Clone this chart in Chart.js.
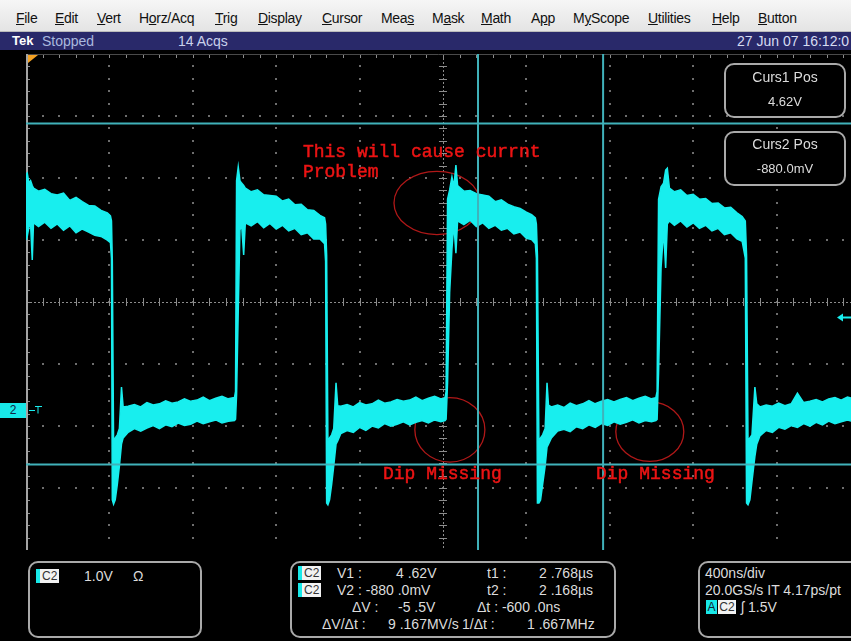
<!DOCTYPE html>
<html>
<head>
<meta charset="utf-8">
<script src="https://cdn.jsdelivr.net/npm/chart.js@4.4.1/dist/chart.umd.min.js"></script>
<style>
  body { margin: 0; background: #000; width: 851px; height: 641px; overflow: hidden; position: relative;
         font-family: "Liberation Sans", Arial, sans-serif; }
  .abs { position: absolute; white-space: nowrap; }
  #menu { position: absolute; left: 0; top: 0; width: 851px; height: 31px;
          background: linear-gradient(#f6f6f6, #e4e4e4); border-bottom: 1px solid #bbb; }
  #menu span { position: absolute; top: 10px; font-size: 14px; color: #111; letter-spacing: -0.3px; }
  #status { position: absolute; left: 0; top: 32px; width: 851px; height: 18px; background: #29296a; }
  #status span { position: absolute; top: 1px; font-size: 14px; line-height: 16px; }
  #wrap { position: absolute; left: 0; top: 50px; width: 851px; height: 505px; }
  .box { position: absolute; border: 2px solid #a9a9a9; border-radius: 10px; background: #000; }
  .txt { position: absolute; font-size: 14px; line-height: 16px; color: #dcdcdc; white-space: nowrap; }
  .badge { position: absolute; height: 14px; font-size: 12px; line-height: 14px; background: #f2f2f2; color: #333;
           border-left: 4px solid #18e8e8; padding: 0 2px; }
</style>
</head>
<body>
<div id="menu">
  <span style="left:16px"><u>F</u>ile</span>
  <span style="left:55px"><u>E</u>dit</span>
  <span style="left:97px"><u>V</u>ert</span>
  <span style="left:139px">H<u>o</u>rz/Acq</span>
  <span style="left:215px"><u>T</u>rig</span>
  <span style="left:258px"><u>D</u>isplay</span>
  <span style="left:322px"><u>C</u>ursor</span>
  <span style="left:381px">Mea<u>s</u></span>
  <span style="left:432px">M<u>a</u>sk</span>
  <span style="left:481px"><u>M</u>ath</span>
  <span style="left:531px">A<u>p</u>p</span>
  <span style="left:573px">M<u>y</u>Scope</span>
  <span style="left:648px"><u>U</u>tilities</span>
  <span style="left:712px"><u>H</u>elp</span>
  <span style="left:758px"><u>B</u>utton</span>
</div>
<div id="status">
  <span style="left:12px;color:#fff;font-weight:bold;font-size:13px">Tek</span>
  <span style="left:42px;color:#a9b8de">Stopped</span>
  <span style="left:178px;color:#c9d1ec">14 Acqs</span>
  <span style="left:737px;color:#d6dcf2">27 Jun 07 16:12:0</span>
</div>

<div id="wrap"><canvas id="scope" width="851" height="505"></canvas></div>

<!-- channel 2 ground marker -->
<div class="abs" style="left:0;top:403px;width:26px;height:15px;background:#18e8e8;color:#124;font-size:12px;line-height:15px;text-align:center">2</div>

<!-- cursor readouts -->
<div class="box" style="left:724px;top:63px;width:118px;height:51px"></div>
<div class="txt" style="left:724px;top:69px;width:122px;text-align:center">Curs1 Pos</div>
<div class="txt" style="left:724px;top:94px;width:122px;text-align:center;font-size:13px">4.62V</div>
<div class="box" style="left:724px;top:131px;width:118px;height:51px"></div>
<div class="txt" style="left:724px;top:136px;width:122px;text-align:center">Curs2 Pos</div>
<div class="txt" style="left:724px;top:161px;width:122px;text-align:center;font-size:13px">-880.0mV</div>

<!-- bottom readouts -->
<div class="box" style="left:28px;top:561px;width:170px;height:73px"></div>
<div class="badge" style="left:36px;top:569px">C2</div>
<div class="txt" style="left:84px;top:568px">1.0V</div>
<div class="txt" style="left:133px;top:568px">Ω</div>

<div class="box" style="left:290px;top:561px;width:322px;height:73px"></div>
<div class="badge" style="left:298px;top:566px">C2</div>
<div class="txt" style="left:337px;top:565px">V1 :</div>
<div class="txt" style="left:396px;top:565px">4 .62V</div>
<div class="txt" style="left:487px;top:565px">t1 :</div>
<div class="txt" style="left:539px;top:565px">2 .768µs</div>
<div class="badge" style="left:298px;top:583px">C2</div>
<div class="txt" style="left:337px;top:582px">V2 : -880 .0mV</div>
<div class="txt" style="left:487px;top:582px">t2 :</div>
<div class="txt" style="left:539px;top:582px">2 .168µs</div>
<div class="txt" style="left:352px;top:599px">ΔV :</div>
<div class="txt" style="left:398px;top:599px">-5 .5V</div>
<div class="txt" style="left:477px;top:599px">Δt : -600 .0ns</div>
<div class="txt" style="left:322px;top:616px">ΔV/Δt :</div>
<div class="txt" style="left:388px;top:616px">9 .167MV/s</div>
<div class="txt" style="left:462px;top:616px">1/Δt :</div>
<div class="txt" style="left:527px;top:616px">1 .667MHz</div>

<div class="box" style="left:698px;top:561px;width:170px;height:73px"></div>
<div class="txt" style="left:705px;top:565px">400ns/div</div>
<div class="txt" style="left:705px;top:582px">20.0GS/s IT 4.17ps/pt</div>
<div class="abs" style="left:706px;top:600px;height:14px;width:11px;background:#18e8e8;color:#123;font-size:12px;line-height:14px;text-align:center">A</div>
<div class="abs" style="left:718px;top:600px;height:14px;width:18px;background:#f2f2f2;color:#333;font-size:12px;line-height:14px;text-align:center">C2</div>
<div class="txt" style="left:741px;top:599px">ʃ 1.5V</div>

<script>
// C2 acquisition: time in µs, min/max envelope in volts
const TIME_US = [
  0.000, 0.006, 0.014, 0.022, 0.030, 0.036, 0.060, 0.090, 0.120, 0.150, 0.180, 0.210, 0.240, 0.270, 0.300, 0.330, 0.360, 0.390, 0.405, 0.410,
  0.414, 0.420, 0.428, 0.438, 0.448, 0.458, 0.466, 0.49, 0.52, 0.55, 0.58, 0.61, 0.64, 0.67, 0.70, 0.73, 0.76, 0.79, 0.82, 0.85, 0.88, 0.91, 0.94, 0.97, 1.000,
  1.005, 1.010, 1.018, 1.026, 1.034, 1.044, 1.052, 1.08, 1.11, 1.14, 1.17, 1.20, 1.23, 1.26, 1.29, 1.32, 1.35, 1.38, 1.41, 1.432, 1.437,
  1.442, 1.448, 1.456, 1.466, 1.476, 1.487, 1.495, 1.51, 1.54, 1.57, 1.60, 1.63, 1.66, 1.69, 1.72, 1.75, 1.78, 1.81, 1.84, 1.87, 1.90, 1.93, 1.96, 1.99, 2.010,
  2.015, 2.022, 2.032, 2.043, 2.052, 2.062, 2.070, 2.10, 2.13, 2.16, 2.19, 2.22, 2.25, 2.28, 2.31, 2.34, 2.37, 2.40, 2.425, 2.443, 2.448,
  2.453, 2.460, 2.468, 2.478, 2.490, 2.499, 2.506, 2.52, 2.55, 2.58, 2.61, 2.64, 2.67, 2.70, 2.73, 2.76, 2.79, 2.82, 2.85, 2.88, 2.91, 2.94, 2.97, 3.000, 3.021,
  3.027, 3.034, 3.046, 3.058, 3.068, 3.076, 3.086, 3.11, 3.14, 3.17, 3.20, 3.23, 3.26, 3.29, 3.32, 3.35, 3.38, 3.41, 3.435, 3.450,
  3.456, 3.463, 3.472, 3.482, 3.496, 3.505, 3.52, 3.55, 3.58, 3.61, 3.64, 3.67, 3.70, 3.73, 3.76, 3.79, 3.82, 3.85, 3.88, 3.91, 3.94, 3.96
];
const TRACE_MAX_V = [
  3.80, 3.82, 3.66, 3.70, 3.62, 3.58, 3.53, 3.56, 3.49, 3.47, 3.50, 3.38, 3.43, 3.36, 3.30, 3.29, 3.22, 3.18, 3.13, 3.05,
  2.40, -0.50, -0.45, -0.40, -0.30, 0.37, 0.05, 0.06, 0.09, 0.05, 0.12, 0.08, 0.10, 0.15, 0.11, 0.13, 0.18, 0.14, 0.16, 0.21, 0.15, 0.19, 0.22, 0.18, 0.20,
  0.30, 3.70, 3.92, 3.70, 3.66, 3.62, 3.58, 3.52, 3.55, 3.47, 3.46, 3.45, 3.37, 3.40, 3.31, 3.32, 3.23, 3.22, 3.14, 3.10, 3.00,
  2.50, -0.50, -0.45, -0.40, -0.30, 0.44, 0.07, 0.06, 0.09, 0.05, 0.12, 0.08, 0.10, 0.16, 0.11, 0.13, 0.17, 0.14, 0.16, 0.21, 0.15, 0.19, 0.22, 0.18, 0.20,
  0.30, 3.40, 3.55, 3.76, 3.60, 3.95, 3.62, 3.53, 3.54, 3.49, 3.47, 3.45, 3.36, 3.39, 3.32, 3.28, 3.25, 3.19, 3.15, 3.10, 3.00,
  2.50, -0.50, -0.45, -0.40, -0.30, 0.44, 0.08, 0.05, 0.08, 0.04, 0.11, 0.07, 0.10, 0.15, 0.10, 0.14, 0.17, 0.13, 0.17, 0.20, 0.15, 0.19, 0.22, 0.18, 0.20,
  0.30, 3.40, 3.60, 3.66, 3.87, 3.90, 3.58, 3.52, 3.55, 3.46, 3.48, 3.40, 3.41, 3.33, 3.34, 3.26, 3.27, 3.18, 3.12, 3.05,
  2.50, -0.50, -0.45, -0.40, 0.37, 0.10, 0.05, 0.08, 0.06, 0.11, 0.07, 0.10, 0.27, 0.12, 0.14, 0.17, 0.13, 0.18, 0.20, 0.16, 0.21, 0.19
];
const TRACE_MIN_V = [
  2.74, 2.80, 2.95, 3.00, 2.42, 3.02, 2.96, 3.03, 2.93, 3.00, 2.90, 2.97, 2.86, 2.92, 2.87, 2.82, 2.80, 2.74, 2.70, 2.45,
  -1.45, -1.52, -1.45, -1.20, -0.90, -0.55, -0.45, -0.36, -0.30, -0.34, -0.29, -0.25, -0.30, -0.24, -0.27, -0.21, -0.25, -0.23, -0.18, -0.22, -0.19, -0.16, -0.21, -0.18, -0.17,
  -0.15, 0.25, 1.60, 2.90, 3.00, 2.50, 3.02, 2.97, 3.04, 2.94, 3.01, 2.92, 2.98, 2.89, 2.93, 2.83, 2.86, 2.76, 2.76, 2.68, 2.40,
  -1.50, -1.53, -1.45, -1.20, -0.90, -0.55, -0.50, -0.38, -0.33, -0.36, -0.28, -0.33, -0.26, -0.29, -0.22, -0.26, -0.23, -0.19, -0.24, -0.20, -0.17, -0.21, -0.16, -0.19, -0.17,
  -0.15, 0.45, 1.90, 2.60, 3.00, 2.53, 3.05, 2.99, 3.06, 2.96, 3.02, 2.93, 2.98, 2.90, 2.93, 2.84, 2.87, 2.77, 2.75, 2.68, 2.45,
  -1.50, -1.50, -1.45, -1.20, -0.90, -0.60, -0.55, -0.45, -0.34, -0.31, -0.35, -0.27, -0.30, -0.24, -0.28, -0.22, -0.25, -0.19, -0.23, -0.20, -0.16, -0.21, -0.17, -0.19, -0.17,
  -0.15, 0.60, 2.30, 2.90, 2.29, 3.00, 3.05, 2.98, 3.05, 2.95, 3.02, 2.93, 2.98, 2.89, 2.93, 2.83, 2.86, 2.76, 2.72, 2.45,
  -1.50, -1.53, -1.45, -1.15, -0.75, -0.55, -0.42, -0.33, -0.36, -0.28, -0.31, -0.25, -0.28, -0.22, -0.26, -0.20, -0.24, -0.18, -0.22, -0.19, -0.16, -0.18
];
const CURSOR_VOLTS = [4.62, -0.88];      // Curs1, Curs2
const CURSOR_TIMES_US = [2.768, 2.168];  // t1, t2
const TRIGGER_LEVEL_V = 1.5;

// screen: 400ns/div, 1.0V/div, ground at 0V
const X_MIN = 0, X_MAX = 3.957, X_DIV = 0.4, X_CENTER = 2.0;
const Y_MIN = -2.258, Y_MAX = 5.742, Y_DIV = 1.0, Y_CENTER = 1.742;

const TRACE = 'rgb(24,238,238)';
const CURSOR = 'rgb(64,178,186)';

const NOTES = [
  { text: 'This will cause currnt', t: 1.328, v: 4.08 },
  { text: 'Problem', t: 1.328, v: 3.76 },
  { text: 'Dip Missing', t: 1.712, v: -1.11 },
  { text: 'Dip Missing', t: 2.734, v: -1.11 }
];
const RINGS = [
  { t: 1.971, v: 3.34, rt: 0.206, rv: 0.51 },
  { t: 2.033, v: -0.32, rt: 0.168, rv: 0.52 },
  { t: 2.992, v: -0.35, rt: 0.163, rv: 0.48 }
];

const scopeScreen = {
  id: 'scopeScreen',
  beforeDatasetsDraw(chart) {
    const { ctx, chartArea: a, scales: { x, y } } = chart;
    const xd = x.getPixelForValue(X_DIV) - x.getPixelForValue(0);
    const yd = y.getPixelForValue(0) - y.getPixelForValue(Y_DIV);
    const cx = x.getPixelForValue(X_CENTER), cy = y.getPixelForValue(Y_CENTER);
    ctx.save();
    ctx.fillStyle = '#6e6e6e';
    // dotted division lines
    for (let k = -5; k <= 5; k++) {
      const px = Math.round(cx + k * xd);
      if (k === 0 || px <= a.left + 2 || px > a.right) continue;
      for (let j = -20; j <= 20; j++) {
        const py = Math.round(cy + j * yd / 5);
        if (py > a.top + 4 && py < a.bottom) ctx.fillRect(px - 1, py - 1, 2, 2);
      }
    }
    for (let k = -4; k <= 4; k++) {
      const py = Math.round(cy + k * yd);
      if (k === 0 || py <= a.top + 2 || py >= a.bottom) continue;
      for (let j = -30; j <= 30; j++) {
        const px = Math.round(cx + j * xd / 5);
        if (px > a.left + 2 && px < a.right) ctx.fillRect(px - 1, py - 1, 2, 2);
      }
    }
    // centre cross
    ctx.strokeStyle = '#8c8c8c';
    ctx.lineWidth = 1;
    ctx.setLineDash([2, 2]);
    ctx.beginPath();
    ctx.moveTo(a.left, Math.round(cy) + 0.5); ctx.lineTo(a.right, Math.round(cy) + 0.5);
    ctx.moveTo(Math.round(cx) + 0.5, a.top); ctx.lineTo(Math.round(cx) + 0.5, a.bottom);
    ctx.stroke();
    ctx.setLineDash([]);
    ctx.beginPath();
    for (let j = -30; j <= 30; j++) {
      const px = Math.round(cx + j * xd / 5) + 0.5;
      if (px < a.left + 2 || px > a.right) continue;
      ctx.moveTo(px, cy - 4); ctx.lineTo(px, cy + 4);
      ctx.moveTo(px, a.top); ctx.lineTo(px, a.top + 4);
    }
    for (let j = -20; j <= 20; j++) {
      const py = Math.round(cy + j * yd / 5) + 0.5;
      if (py < a.top || py > a.bottom) continue;
      ctx.moveTo(cx - 4, py); ctx.lineTo(cx + 4, py);
      ctx.moveTo(a.left, py); ctx.lineTo(a.left + 4, py);
    }
    ctx.stroke();
    ctx.strokeStyle = '#4a4a4a';
    ctx.beginPath(); ctx.moveTo(a.left, a.top + 0.5); ctx.lineTo(a.right, a.top + 0.5); ctx.stroke();
    ctx.strokeStyle = '#a4a4a4';
    ctx.lineWidth = 2;
    ctx.beginPath(); ctx.moveTo(a.left + 1, a.top); ctx.lineTo(a.left + 1, a.bottom); ctx.stroke();
    // hand drawn rings
    ctx.strokeStyle = 'rgb(176,24,24)';
    ctx.lineWidth = 1.3;
    RINGS.forEach(r => {
      const px = x.getPixelForValue(r.t), py = y.getPixelForValue(r.v);
      const rx = x.getPixelForValue(r.t + r.rt) - px, ry = py - y.getPixelForValue(r.v + r.rv);
      ctx.beginPath(); ctx.ellipse(px, py, rx, ry, 0, 0, Math.PI * 2); ctx.stroke();
    });
    ctx.restore();
  },
  afterDatasetsDraw(chart) {
    const { ctx, chartArea: a, scales: { x, y } } = chart;
    ctx.save();
    ctx.fillStyle = 'rgb(236,20,20)';
    ctx.strokeStyle = 'rgb(236,20,20)';
    ctx.lineWidth = 0.5;
    ctx.font = '18px "Liberation Mono", monospace';
    NOTES.forEach(n => {
      const px = x.getPixelForValue(n.t), py = y.getPixelForValue(n.v);
      ctx.fillText(n.text, px, py);
      ctx.strokeText(n.text, px, py);
    });
    // trigger position marker
    ctx.fillStyle = '#f4a224';
    ctx.beginPath();
    ctx.moveTo(a.left + 2, a.top + 1); ctx.lineTo(a.left + 12, a.top + 1); ctx.lineTo(a.left + 2, a.top + 9);
    ctx.closePath(); ctx.fill();
    // trigger level arrow
    const ty = Math.round(y.getPixelForValue(TRIGGER_LEVEL_V)) + 0.5;
    ctx.strokeStyle = TRACE; ctx.fillStyle = TRACE; ctx.lineWidth = 2;
    ctx.beginPath(); ctx.moveTo(a.right - 10, ty); ctx.lineTo(a.right, ty); ctx.stroke();
    ctx.beginPath(); ctx.moveTo(a.right - 14, ty); ctx.lineTo(a.right - 8, ty - 4); ctx.lineTo(a.right - 8, ty + 4); ctx.closePath(); ctx.fill();
    // ground level glyph
    const gy = Math.round(y.getPixelForValue(0)) + 0.5;
    ctx.lineWidth = 1;
    ctx.beginPath();
    ctx.moveTo(a.left + 3, gy); ctx.lineTo(a.left + 9, gy);
    ctx.moveTo(a.left + 9, gy - 4); ctx.lineTo(a.left + 16, gy - 4);
    ctx.moveTo(a.left + 12, gy - 4); ctx.lineTo(a.left + 12, gy + 3);
    ctx.stroke();
    ctx.restore();
  }
};

const points = (vals) => TIME_US.map((t, i) => ({ x: t, y: vals[i] }));
const cursorSets = [
  ...CURSOR_VOLTS.map(v => ({ data: [{ x: X_MIN, y: v }, { x: X_MAX, y: v }] })),
  ...CURSOR_TIMES_US.map(t => ({ data: [{ x: t, y: Y_MIN }, { x: t, y: Y_MAX }] }))
].map(d => Object.assign(d, { borderColor: CURSOR, borderWidth: 2, pointRadius: 0, fill: false, order: 0 }));

new Chart(document.getElementById('scope'), {
  type: 'line',
  data: {
    datasets: [
      { label: 'C2 max', data: points(TRACE_MAX_V), borderColor: TRACE, borderWidth: 1.5, pointRadius: 0, fill: false, order: 1 },
      { label: 'C2 min', data: points(TRACE_MIN_V), borderColor: TRACE, borderWidth: 1.5, pointRadius: 0,
        fill: '-1', backgroundColor: TRACE, order: 1 },
      ...cursorSets
    ]
  },
  options: {
    responsive: false,
    animation: false,
    events: [],
    layout: { padding: { left: 26, top: 4, right: 0, bottom: 5 } },
    scales: {
      x: { type: 'linear', min: X_MIN, max: X_MAX, display: false },
      y: { type: 'linear', min: Y_MIN, max: Y_MAX, display: false }
    },
    plugins: { legend: { display: false }, tooltip: { enabled: false } }
  },
  plugins: [scopeScreen]
});
</script>
</body>
</html>
